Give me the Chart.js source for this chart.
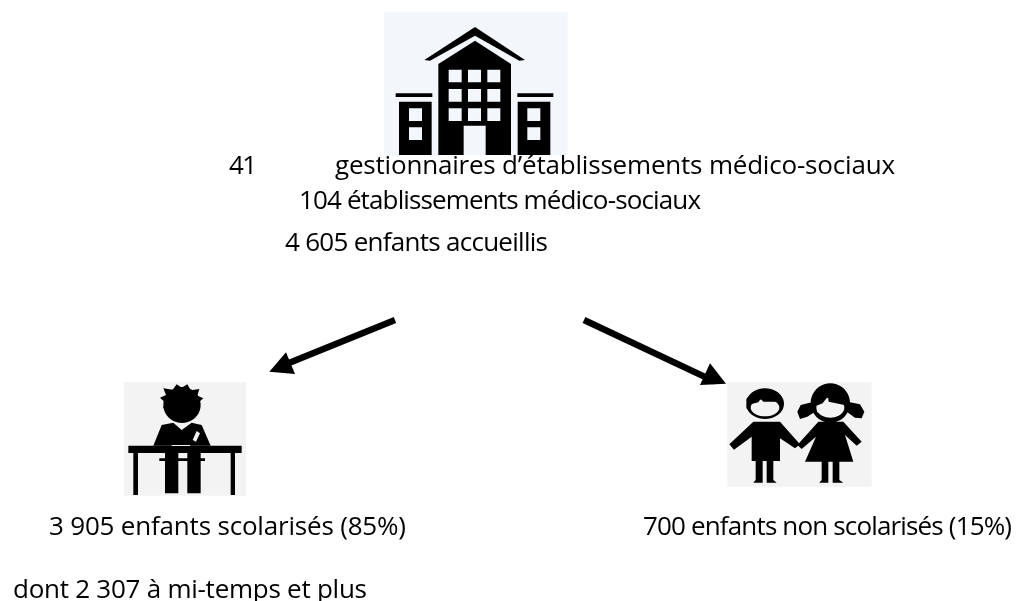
<!DOCTYPE html>
<html><head><meta charset="utf-8">
<style>html,body{margin:0;padding:0;background:#fff}#w{position:relative;width:1016px;height:601px}</style>
<script src="https://cdn.jsdelivr.net/npm/chart.js@4"></script>
</head><body><div id="w"><canvas id="c" width="1016" height="601"></canvas></div>
<script>
// ---- texts
const labelTexts=["41","gestionnaires d’établissements médico-sociaux","104 établissements médico-sociaux","4 605 enfants accueillis","3 905 enfants scolarisés (85%)","700 enfants non scolarisés (15%)","dont 2 307 à mi-temps et plus"];
const labelX=[229,335,299,285,49,643,13];
const labelY=[174,174,209,251,535,535,598];
const labelWidth=[28,560,402,263,357,369,354];
// ---- icon outlines, in 3x crop units
const BK="#000",BG1="#f3f7fb",BG2="#f3f3f3";
const rect=(a,b,c,d)=>[[a,b],[c,b],[c,d],[a,d]];
const ellipse=(cx,cy,rx,ry)=>Array.from({length:40},(_,i)=>[cx+rx*Math.cos(i*Math.PI/20),cy+ry*Math.sin(i*Math.PI/20)]);
const buildingBg=rect(12,22,563,450);
const roof=[[133,165],[285,66],[435,165],[418,167],[285,92],[150,167]];
const mainBody=[[175,177],[285,107],[393,177],[393,450],[175,450]];
const buildingBlack=[roof,mainBody,rect(47,265,157,276),rect(57,290,155,450),rect(412,265,520,276),rect(413,290,511,450)];
const buildingLight=[rect(206,194,245,232),rect(264,194,303,232),rect(322,194,361,232),rect(206,252,245,290),rect(264,252,303,290),rect(322,252,361,290),rect(206,310,245,348),rect(264,310,303,348),rect(322,310,361,348),rect(251,362,317,450),rect(87,310,126,348),rect(87,367,126,405),rect(442,310,481,348),rect(442,367,481,405)];
const studentBg=rect(42,22,408,362);
const studentBlack=[ellipse(216,90,56,54),
 [[150,68],[168,60],[160,40],[188,44],[200,28],[215,38],[232,28],[242,46],[268,42],[262,62],[280,70],[268,80],[270,100],[160,100],[163,80]],
 [[130,212],[155,150],[190,143],[215,165],[245,143],[275,150],[302,212]],rect(55,212,395,234),rect(70,234,84,360),rect(362,234,375,360),rect(148,250,285,258),rect(165,234,205,355),rect(232,234,272,355)];
const studentLight=[[[248,195],[260,168],[270,175],[258,200]],rect(185,210,240,213)];
const kidsBg=rect(22,22,455,335);
const kidsBlack=[ellipse(135,86,57,46),ellipse(331,84,59,59),
 [[100,140],[180,140],[240,208],[225,220],[180,190],[180,258],[160,258],[160,315],[170,323],[140,323],[140,258],[128,258],[128,323],[100,323],[107,315],[107,258],[95,258],[95,185],[42,224],[28,208]],
 [[232,110],[242,90],[275,82],[285,110],[262,125],[240,132]],[[380,110],[390,82],[420,88],[433,110],[425,130],[405,128]],
 [[295,140],[370,140],[425,200],[410,212],[375,180],[400,260],[358,260],[358,315],[370,323],[338,323],[338,260],[325,260],[325,323],[298,323],[305,315],[305,260],[255,260],[288,185],[245,222],[232,210]]];
const kidsFaces=[ellipse(135,98,43,26),ellipse(331,98,42,30)];
const kidsFringe=[[[92,88],[115,82],[122,72],[130,80],[178,80],[178,68],[92,68]],[[289,92],[308,85],[324,64],[326,80],[373,90],[373,62],[289,62]]];
const arrowShafts=[[[405,45],[85,175]],[[972,45],[1365,230]]];
const arrowHeads=[[[28,200],[105,207],[78,142]],[[1398,236],[1320,240],[1350,175]]];

const at=(ox,oy,l)=>l.map(p=>({x:ox+p[0]/3,y:oy+p[1]/3}));
const ds=[];
const poly=(ox,oy,l,color)=>ds.push({type:'line',data:at(ox,oy,l.concat([l[0]])),fill:'shape',backgroundColor:color,borderColor:color,borderWidth:0,pointRadius:0,tension:0,clip:false});
poly(380,5,buildingBg,BG1);
buildingBlack.forEach(s=>poly(380,5,s,BK));
buildingLight.forEach(s=>poly(380,5,s,BG1));
poly(110,375,studentBg,BG2);
studentBlack.forEach(s=>poly(110,375,s,BK));
studentLight.forEach(s=>poly(110,375,s,BG2));
poly(720,375,kidsBg,BG2);
kidsBlack.forEach(s=>poly(720,375,s,BK));
kidsFaces.forEach(s=>poly(720,375,s,BG2));
kidsFringe.forEach(s=>poly(720,375,s,BK));
arrowShafts.forEach(s=>ds.push({type:'line',data:at(260,305,s),borderColor:BK,borderWidth:6.5,pointRadius:0,fill:false,clip:false}));
arrowHeads.forEach(s=>poly(260,305,s,BK));
ds.forEach((d,i)=>d.order=ds.length-i);

const textPlugin={id:'txt',afterDraw(ch){
  const c=ch.ctx,xs=ch.scales.x,ys=ch.scales.y;
  c.save();c.fillStyle='#000';c.textBaseline='alphabetic';c.textAlign='left';
  c.font='26px "Open Sans"';
  labelTexts.forEach((t,i)=>{
    c.letterSpacing='0px';
    const m=c.measureText(t).width;
    c.letterSpacing=((labelWidth[i]-m)/Math.max(1,t.length-1)).toFixed(3)+'px';
    c.fillText(t,xs.getPixelForValue(labelX[i]),ys.getPixelForValue(labelY[i]));
  });
  c.restore();
}};
new Chart(document.getElementById('c'),{
  type:'scatter',data:{datasets:ds},plugins:[textPlugin],
  options:{responsive:false,animation:false,events:[],layout:{padding:0,autoPadding:false},
    plugins:{legend:{display:false},tooltip:{enabled:false},title:{display:false}},
    scales:{x:{type:'linear',min:0,max:1016,display:false},y:{type:'linear',min:0,max:601,reverse:true,display:false}}}
});
</script></body></html>
